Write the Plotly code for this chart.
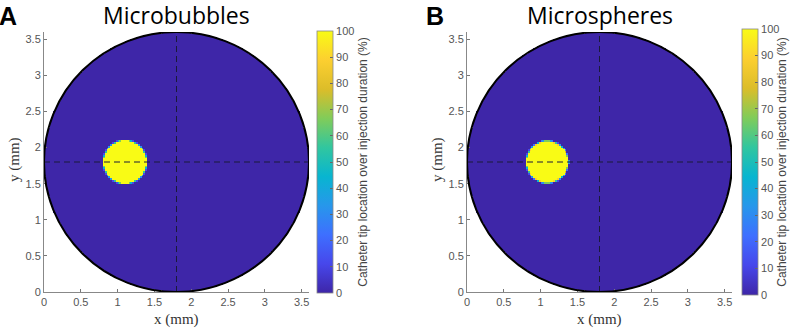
import numpy as np
import plotly.graph_objects as go

# ---- data ----
panel_letters = ["A", "B"]
panel_titles = ["Microbubbles", "Microspheres"]
vessel_center_mm = [1.8, 1.8]        # x, y of vessel cross-section centre
vessel_radius_mm = 1.8
tip_center_x_mm = [1.10, 1.09]       # catheter-tip dwell region centre (per panel)
tip_center_y_mm = [1.80, 1.80]
tip_radius_mm = [0.30, 0.29]
tip_value_pct = [100, 100]           # % of injection duration at tip region
background_value_pct = [0, 0]
grid_step_mm = 0.025
axis_ticks = [0, 0.5, 1, 1.5, 2, 2.5, 3, 3.5]
axis_ticklabels = ["0", "0.5", "1", "1.5", "2", "2.5", "3", "3.5"]
cbar_ticks = [0, 10, 20, 30, 40, 50, 60, 70, 80, 90, 100]
cbar_title = "Catheter tip location over injection duration (%)"

# MATLAB parula (10 samples)
parula = [
    (0.2422, 0.1504, 0.6603), (0.2803, 0.2782, 0.9221), (0.2440, 0.4358, 0.9988),
    (0.1540, 0.5902, 0.9218), (0.0297, 0.7082, 0.8163), (0.1938, 0.7758, 0.6251),
    (0.5044, 0.7993, 0.3480), (0.8634, 0.7406, 0.1596), (0.9892, 0.8136, 0.1885),
    (0.9769, 0.9839, 0.0805),
]
colorscale = [[i / (len(parula) - 1), "rgb(%d,%d,%d)" % tuple(round(c * 255) for c in p)]
              for i, p in enumerate(parula)]


def build_grid(k):
    n = int(round(2 * vessel_radius_mm / grid_step_mm))
    centers = (np.arange(n) + 0.5) * grid_step_mm
    X, Y = np.meshgrid(centers, centers)
    # coverage of tip disk (3x3 supersampling of each cell)
    cov = np.zeros_like(X)
    offs = (np.arange(3) - 1) * grid_step_mm / 3
    for dx in offs:
        for dy in offs:
            cov += ((X + dx - tip_center_x_mm[k]) ** 2 + (Y + dy - tip_center_y_mm[k]) ** 2
                    <= tip_radius_mm[k] ** 2)
    cov /= 9.0
    z = background_value_pct[k] + cov * (tip_value_pct[k] - background_value_pct[k])
    inside = (X - vessel_center_mm[0]) ** 2 + (Y - vessel_center_mm[1]) ** 2 <= vessel_radius_mm ** 2
    z = np.where(inside, z, np.nan)
    return centers, z


W, H = 800, 332
x_domains = [[44 / W, 309 / W], [467 / W, 732 / W]]
y_domain = [40 / H, 300 / H]
cbar_x = [317 / W, 742 / W]
cbar_len = [262, 266]
cbar_yc = [(H - 162) / H, (H - 162) / H]

fig = go.Figure()
tick_font = dict(family="Liberation Sans, Arial", size=11, color="#555555")

for k in range(2):
    centers, z = build_grid(k)
    fig.add_trace(go.Heatmap(
        x=centers, y=centers, z=z, zmin=0, zmax=100, zsmooth=False,
        colorscale=colorscale, hoverongaps=False,
        xaxis="x" if k == 0 else "x2", yaxis="y" if k == 0 else "y2",
        colorbar=dict(
            x=cbar_x[k], xanchor="left", xpad=0, ypad=0,
            y=cbar_yc[k], yanchor="middle",
            thickness=16, thicknessmode="pixels",
            len=cbar_len[k], lenmode="pixels",
            tickvals=cbar_ticks, ticks="inside", ticklen=3, tickcolor="#666666",
            tickfont=dict(family="Liberation Sans, Arial", size=11, color="#555555"),
            outlinewidth=0.8, outlinecolor="#888888",
            title=dict(text=cbar_title, side="right",
                       font=dict(family="Liberation Sans, Arial", size=12, color="#444444")),
        ),
    ))

axis_common = dict(range=[0, 3.6], tickvals=axis_ticks, ticktext=axis_ticklabels,
                   ticks="inside", ticklen=3, tickcolor="#777777", showline=True,
                   linecolor="#888888", linewidth=1, showgrid=False, zeroline=False,
                   tickfont=tick_font, mirror=False)

fig.update_layout(
    width=W, height=H, margin=dict(l=0, r=0, t=0, b=0, autoexpand=False),
    paper_bgcolor="white", plot_bgcolor="white", showlegend=False,
    xaxis=dict(domain=x_domains[0], anchor="y", **axis_common),
    yaxis=dict(domain=y_domain, anchor="x", **axis_common),
    xaxis2=dict(domain=x_domains[1], anchor="y2", **axis_common),
    yaxis2=dict(domain=y_domain, anchor="x2", **axis_common),
)

shapes = []
annotations = []
for k in range(2):
    xr = "x" if k == 0 else "x2"
    yr = "y" if k == 0 else "y2"
    cx, cy = vessel_center_mm
    r = vessel_radius_mm
    shapes.append(dict(type="line", xref=xr, yref=yr, x0=cx, x1=cx, y0=cy - r, y1=cy + r,
                       line=dict(color="#1a1a3a", width=1, dash="6px,4px")))
    shapes.append(dict(type="line", xref=xr, yref=yr, x0=cx - r, x1=cx + r, y0=cy, y1=cy,
                       line=dict(color="#1a1a3a", width=1, dash="6px,4px")))
    shapes.append(dict(type="circle", xref=xr, yref=yr, x0=cx - r, x1=cx + r,
                       y0=cy - r, y1=cy + r, line=dict(color="black", width=2)))

    d = x_domains[k]
    xmid = (d[0] + d[1]) / 2
    annotations.append(dict(text=panel_titles[k], x=xmid, y=1 - 15 / H, xref="paper", yref="paper",
                            xanchor="center", yanchor="middle", showarrow=False,
                            font=dict(family="Open Sans, Noto Sans", size=23, color="black")))
    annotations.append(dict(text="<b>%s</b>" % panel_letters[k],
                            x=(8 if k == 0 else 435) / W, y=1 - 16 / H,
                            xref="paper", yref="paper", xanchor="center", yanchor="middle",
                            showarrow=False,
                            font=dict(family="Liberation Sans, Arial", size=25, color="black")))
    annotations.append(dict(text="x (mm)", x=xmid, y=1 - 319 / H, xref="paper", yref="paper",
                            xanchor="center", yanchor="middle", showarrow=False,
                            font=dict(family="Liberation Serif, Times New Roman", size=15,
                                      color="#333333")))
    annotations.append(dict(text="y (mm)", x=(d[0] * W - 30) / W, y=1 - 160 / H,
                            xref="paper", yref="paper", xanchor="center", yanchor="middle",
                            textangle=-90, showarrow=False,
                            font=dict(family="Liberation Serif, Times New Roman", size=15,
                                      color="#333333")))

fig.update_layout(shapes=shapes, annotations=annotations)
fig.write_html("out.html", config={"displayModeBar": False},
               post_script="document.body.style.margin='0px';document.body.style.overflow='hidden';")
